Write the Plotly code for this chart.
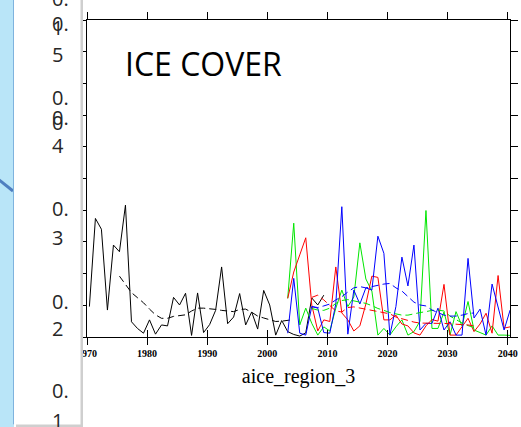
import plotly.graph_objects as go

# ---------------- data ----------------
obs_years = list(range(1970, 2010))
obs_vals = [0.096, 0.374, 0.340, 0.085, 0.290, 0.269, 0.416, 0.048, 0.027, 0.012,
            0.054, 0.009, 0.038, 0.035, 0.125, 0.101, 0.138, 0.005, 0.139, 0.014,
            0.039, 0.084, 0.221, 0.042, 0.063, 0.137, 0.038, 0.079, 0.025, 0.147,
            0.101, 0.006, 0.052, 0.017, 0.008, 0.003, 0.013, 0.123, 0.101, 0.132]

obs_mean_years = list(range(1975, 2005))
obs_mean_vals = [0.192, 0.165, 0.140, 0.124, 0.108, 0.088, 0.070, 0.059, 0.059, 0.065,
                 0.067, 0.070, 0.082, 0.091, 0.091, 0.090, 0.087, 0.084, 0.082, 0.080,
                 0.087, 0.088, 0.078, 0.066, 0.060, 0.054, 0.049, 0.050, 0.053, 0.055]

run_years = list(range(2003, 2041))
green_vals = [0.122, 0.359, 0.038, 0.091, 0.043, 0.006, 0.032, 0.019, 0.091, 0.148,
              0.096, 0.126, 0.297, 0.183, 0.145, 0.006, 0.027, 0.006, 0.032, 0.054,
              0.006, 0.017, 0.050, 0.399, 0.027, 0.027, 0.079, 0.006, 0.080, 0.035,
              0.112, 0.022, 0.014, 0.006, 0.035, 0.006, 0.006, 0.005]
red_vals = [0.122, 0.205, 0.259, 0.313, 0.101, 0.019, 0.054, 0.049, 0.221, 0.076,
            0.054, 0.019, 0.035, 0.104, 0.192, 0.188, 0.054, 0.054, 0.069, 0.041,
            0.035, 0.013, 0.006, 0.035, 0.055, 0.050, 0.166, 0.006, 0.006, 0.032,
            0.059, 0.017, 0.041, 0.075, 0.012, 0.194, 0.028, 0.032]
blue_vals = [0.012, 0.185, 0.012, 0.006, 0.096, 0.091, 0.014, 0.012, 0.104, 0.411,
             0.009, 0.148, 0.104, 0.155, 0.148, 0.318, 0.264, 0.006, 0.096, 0.252,
             0.161, 0.290, 0.022, 0.043, 0.043, 0.091, 0.022, 0.048, 0.006, 0.006,
             0.248, 0.060, 0.088, 0.006, 0.167, 0.093, 0.022, 0.085]

mean_years = list(range(2007, 2035))
green_mean = [0.090, 0.085, 0.084, 0.091, 0.106, 0.115, 0.118, 0.114, 0.110, 0.106,
              0.099, 0.090, 0.084, 0.077, 0.073, 0.069, 0.069, 0.074, 0.077, 0.080,
              0.084, 0.085, 0.082, 0.066, 0.054, 0.044, 0.036, 0.030]
red_mean = [0.125, 0.132, 0.117, 0.098, 0.082, 0.079, 0.093, 0.095, 0.091, 0.088,
            0.084, 0.080, 0.077, 0.073, 0.063, 0.057, 0.052, 0.047, 0.044, 0.043,
            0.043, 0.043, 0.043, 0.041, 0.041, 0.039, 0.038, 0.035]
blue_mean = [0.096, 0.093, 0.098, 0.104, 0.117, 0.127, 0.142, 0.155, 0.159, 0.155,
             0.159, 0.164, 0.167, 0.169, 0.155, 0.145, 0.126, 0.110, 0.101, 0.098,
             0.085, 0.076, 0.069, 0.066, 0.066, 0.069, 0.074, 0.076]

x_ticks = [1970, 1980, 1990, 2000, 2010, 2020, 2030, 2040]
x_title = "aice_region_3"
chart_title = "ICE COVER"
# slide text fragments (wrapped value labels) and their vertical pixel positions
slide_labels = ["0.", "0.", "1", "5", "0.", "0.", "0", "4", "0.", "3", "0.", "2", "0.", "1"]
slide_label_y = [-1, 23, 28, 54, 97, 117, 122, 145, 208, 238, 301, 328, 390, 420]

# ---------------- figure ----------------
W, H = 521, 427
L, R, T, B = 87, 11, 20, 90
PW, PH = W - L - R, H - T - B


def px(xp):
    return (xp - L) / PW


def py(yp):
    return (H - B - yp) / PH


def mid(years):
    return [y + 0.4 for y in years]


GREEN, RED, BLUE = "#00e600", "#ff0000", "#0000ff"

fig = go.Figure()
fig.add_trace(go.Scatter(x=mid(obs_years), y=obs_vals, mode="lines",
                         line=dict(color="black", width=1)))
fig.add_trace(go.Scatter(x=mid(obs_mean_years), y=obs_mean_vals, mode="lines",
                         line=dict(color="black", width=1, dash="7px,4px")))
for vals, col in [(green_vals, GREEN), (red_vals, RED), (blue_vals, BLUE)]:
    fig.add_trace(go.Scatter(x=mid(run_years), y=vals, mode="lines",
                             line=dict(color=col, width=1)))
for vals, col in [(green_mean, GREEN), (red_mean, RED), (blue_mean, BLUE)]:
    fig.add_trace(go.Scatter(x=mid(mean_years), y=vals, mode="lines",
                             line=dict(color=col, width=1, dash="7px,4px")))

x_end = 1970 + PW / 6.01

fig.update_layout(
    width=W, height=H, autosize=False,
    margin=dict(l=L, r=R, t=T, b=B, pad=0, autoexpand=False),
    paper_bgcolor="white", plot_bgcolor="white",
    showlegend=False,
    xaxis=dict(range=[1970, x_end], tickvals=x_ticks, automargin=False,
               ticktext=[str(v) for v in x_ticks],
               ticks="outside", ticklen=7, tickwidth=1, tickcolor="black",
               showline=True, linecolor="black", linewidth=1, mirror="ticks",
               showgrid=False, zeroline=False,
               tickfont=dict(family="Liberation Serif", size=10, color="black",
                             weight="bold"),
               title=dict(text=x_title, standoff=10,
                          font=dict(family="Liberation Serif", size=20, color="black"))),
    xaxis2=dict(range=[1970, x_end], tickvals=x_ticks, overlaying="x", side="bottom",
                automargin=False,
                ticks="inside", ticklen=7, tickwidth=1, tickcolor="black",
                showticklabels=False, showgrid=False, zeroline=False, showline=False),
    yaxis=dict(range=[0, 1], dtick=0.1, tick0=0, automargin=False,
               ticks="outside", ticklen=7, tickwidth=1, tickcolor="black",
               showline=True, linecolor="black", linewidth=1, mirror="ticks",
               showgrid=False, zeroline=False, showticklabels=False),
)
# invisible trace to activate xaxis2
fig.add_trace(go.Scatter(x=[1970], y=[0], xaxis="x2", mode="lines",
                         line=dict(width=0), hoverinfo="skip"))

shapes = [
    # slide background strip
    dict(type="rect", xref="paper", yref="paper", x0=px(-2), x1=px(14), y0=py(H + 2), y1=py(-2),
         fillcolor="#b9e5f8", line=dict(width=0), layer="above"),
    dict(type="line", xref="paper", yref="paper", x0=px(-2), x1=px(13), y0=py(179), y1=py(191),
         line=dict(color="#4f7fc0", width=3), layer="above"),
    # panel shadow
    dict(type="rect", xref="paper", yref="paper", x0=px(16), x1=px(83), y0=py(427), y1=py(-2),
         fillcolor="#cfcfcf", line=dict(width=0), layer="above"),
    # white panel
    dict(type="rect", xref="paper", yref="paper", x0=px(13), x1=px(80.5), y0=py(424.5), y1=py(-2),
         fillcolor="white", line=dict(width=0), layer="above"),
    dict(type="line", xref="paper", yref="paper", x0=px(13.5), x1=px(13.5), y0=py(424.5), y1=py(-2),
         line=dict(color="#7fb3de", width=1), layer="above"),
]
fig.update_layout(shapes=shapes)

annotations = [dict(text=chart_title, xref="paper", yref="paper", x=px(123), y=py(63),
                    xanchor="left", yanchor="middle", showarrow=False,
                    font=dict(family="Open Sans", size=32, color="black"))]
for txt, yy in zip(slide_labels, slide_label_y):
    annotations.append(dict(text=txt, xref="paper", yref="paper", x=px(50), y=py(yy),
                            xanchor="left", yanchor="middle", showarrow=False,
                            font=dict(family="Open Sans", size=20, color="#262626")))
fig.update_layout(annotations=annotations)

fig.write_html("out.html",
               config={"displayModeBar": False, "responsive": False},
               post_script="document.body.style.margin='0px';"
                           "document.body.style.overflow='hidden';")
